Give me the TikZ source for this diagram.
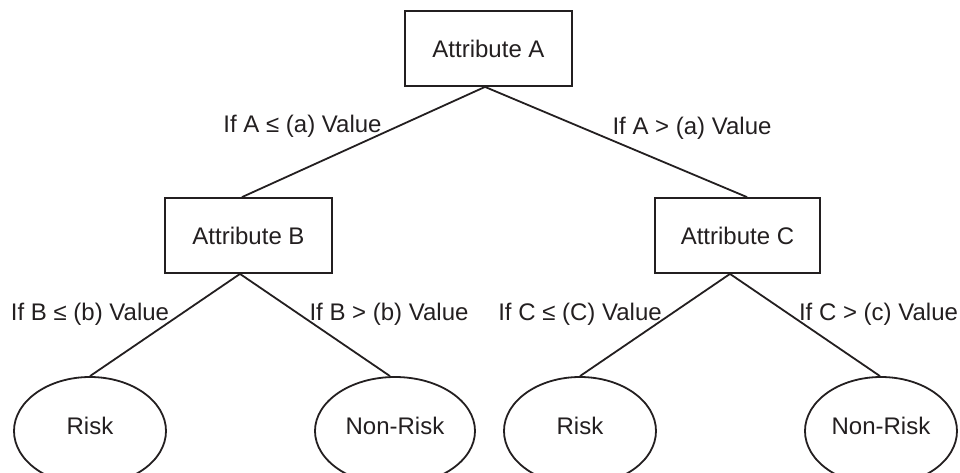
\documentclass[tikz,border=0pt]{standalone}
\usepackage{fontspec}
\setmainfont{Liberation Sans}
\usetikzlibrary{shapes.geometric}
\definecolor{ink}{HTML}{231F20}
\begin{document}
\begin{tikzpicture}[x=0.5pt,y=-0.5pt,
  every node/.style={font=\fontsize{12pt}{14pt}\selectfont, text=ink},
  attrbox/.style={draw=ink, line width=0.9pt, rectangle, inner sep=0pt, minimum height=37.5pt},
  leaf/.style={draw=ink, line width=0.9pt, ellipse, inner sep=0pt, minimum height=54pt, text depth=5.6pt},
  conn/.style={draw=ink, line width=0.9pt},
  lbl/.style={anchor=base, inner sep=0pt}]
\useasboundingbox (0,0) rectangle (960,472);
\clip (0,0) rectangle (960,472);
% decision boxes
\node[attrbox, minimum width=83.5pt] (A) at (488.5,48.5) {Attribute A};
\node[attrbox, minimum width=83.5pt] (B) at (248.5,235.5) {Attribute B};
\node[attrbox, minimum width=82.5pt] (C) at (737.5,235.5) {Attribute C};
% leaves
\node[leaf, minimum width=76pt] (R1) at (90,431) {Risk};
\node[leaf, minimum width=80pt] (N1) at (395,431) {Non-Risk};
\node[leaf, minimum width=76pt] (R2) at (580,431) {Risk};
\node[leaf, minimum width=76pt] (N2) at (881,431) {Non-Risk};
% connectors
\draw[conn] ([xshift=-1.75pt]A.south) -- ([xshift=-3.25pt]B.north);
\draw[conn] ([xshift=-1.75pt]A.south) -- ([xshift=4.75pt]C.north);
\draw[conn] ([xshift=-4.25pt]B.south) -- (R1.north);
\draw[conn] ([xshift=-4.25pt]B.south) -- ([xshift=-2.5pt]N1.north);
\draw[conn] ([xshift=-3.75pt]C.south) -- (R2.north);
\draw[conn] ([xshift=-3.75pt]C.south) -- ([xshift=-0.5pt]N2.north);
% labels
\node[lbl] (la) at (302.5,132) {If A ≤ (a) Value};
\node[lbl] (ra) at (692,134) {If A > (a) Value};
\node[lbl] (lb) at (90,320) {If B ≤ (b) Value};
\node[lbl] (rb) at (389,320) {If B > (b) Value};
\node[lbl] (lc) at (580,320) {If C ≤ (C) Value};
\node[lbl] (rc) at (878.5,320) {If C > (c) Value};
\end{tikzpicture}
\end{document}
